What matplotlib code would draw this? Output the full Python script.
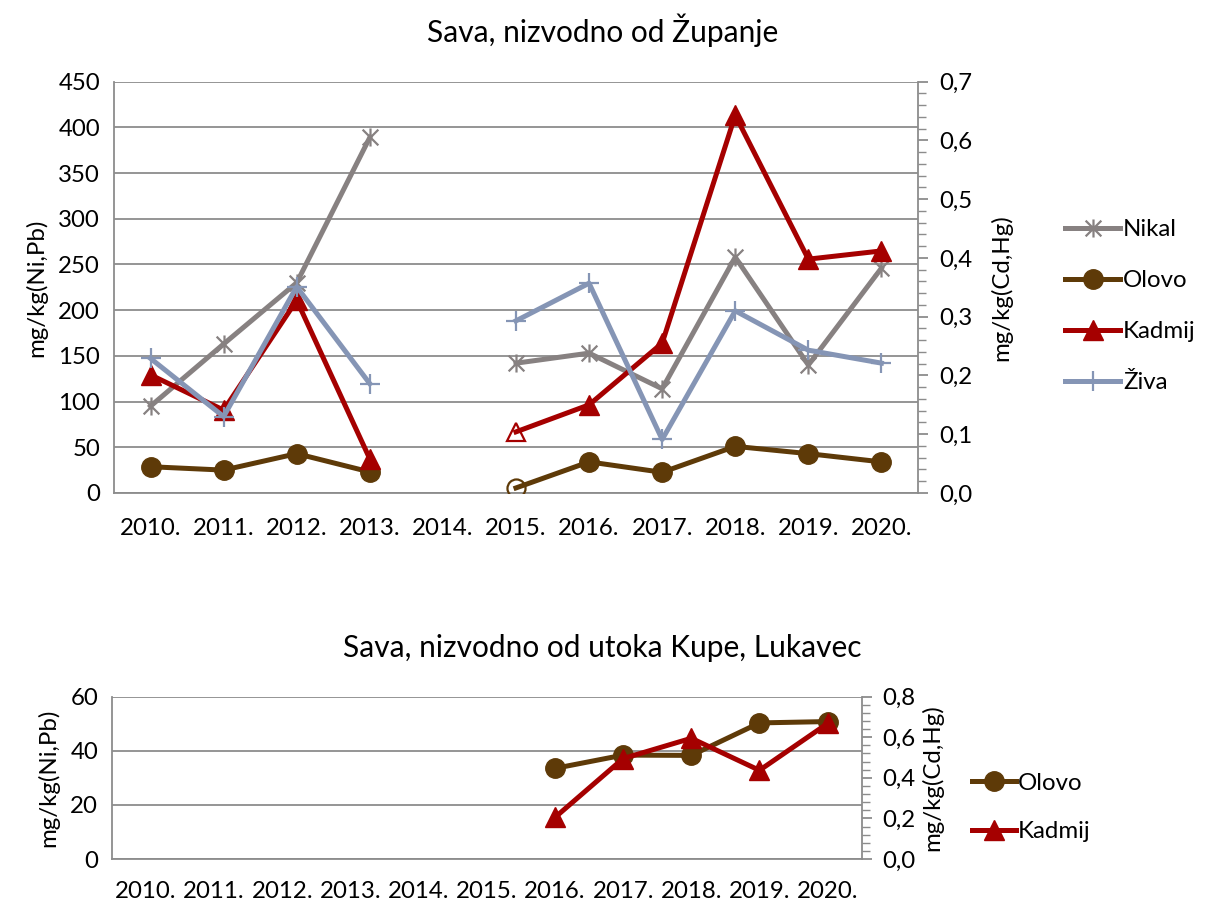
import numpy as np
import matplotlib
matplotlib.use("Agg")
import matplotlib.pyplot as plt
from matplotlib.path import Path
from matplotlib.ticker import FuncFormatter, MultipleLocator

plt.rcParams['font.family'] = ['Lato', 'DejaVu Sans']

years = ["2010.", "2011.", "2012.", "2013.", "2014.", "2015.", "2016.", "2017.", "2018.", "2019.", "2020."]
nan = np.nan

# Top chart: Sava, nizvodno od Županje
nikal_top = [95, 163, 230, 389, nan, 142, 153, 114, 258, 140, 246]
olovo_top = [28.7, 25, 43, 23, nan, 5.5, 34, 22.6, 51, 43, 34]
kadmij_top = [0.201, 0.141, 0.328, 0.058, nan, 0.104, 0.15, 0.255, 0.643, 0.398, 0.412]
ziva_top = [0.229, 0.13, 0.351, 0.186, nan, 0.293, 0.357, 0.091, 0.31, 0.243, 0.221]
hollow_idx = 5  # 2015 values shown with hollow markers (Olovo, Kadmij)

# Bottom chart: Sava, nizvodno od utoka Kupe, Lukavec
olovo_bot = [nan, nan, nan, nan, nan, nan, 33.5, 38.4, 38.3, 50.3, 50.8]
kadmij_bot = [nan, nan, nan, nan, nan, nan, 0.205, 0.495, 0.595, 0.437, 0.668]

C_NI = '#878181'
C_PB = '#5E3A08'
C_CD = '#A50000'
C_HG = '#8595B5'
GRID = '#8C8C8C'
FS = 17.3
FT = 21.5

star = Path([(-1, -1), (1, 1), (-1, 1), (1, -1), (0, -1.15), (0, 1.15)],
            [Path.MOVETO, Path.LINETO, Path.MOVETO, Path.LINETO, Path.MOVETO, Path.LINETO])

comma = FuncFormatter(lambda v, p: f"{v:.1f}".replace('.', ','))

fig = plt.figure(figsize=(12.05, 9.07), dpi=100)

def style_axes(ax, ax2, ymax, ystep, y2max, y2step, y2minor, xpad):
    ax.set_xlim(-0.5, len(years) - 0.5)
    ax.set_ylim(0, ymax)
    ax.set_yticks(np.arange(0, ymax + 0.001, ystep))
    ax.set_xticks(range(len(years)))
    ax.set_xticklabels(years)
    ax.grid(axis='y', color=GRID, lw=1.3)
    ax.set_axisbelow(True)
    ax.tick_params(axis='y', length=0, labelsize=FS, pad=10)
    ax.tick_params(axis='x', length=0, labelsize=FS, pad=xpad)
    for s in ['left', 'bottom']:
        ax.spines[s].set_color(GRID)
        ax.spines[s].set_linewidth(1.3)
    ax.spines['top'].set_visible(False)
    ax.spines['right'].set_visible(False)
    ax2.set_ylim(0, y2max)
    ax2.yaxis.set_major_locator(MultipleLocator(y2step))
    ax2.yaxis.set_minor_locator(MultipleLocator(y2minor))
    ax2.yaxis.set_major_formatter(comma)
    ax2.tick_params(axis='y', which='major', length=7, width=1.3, color=GRID, labelsize=FS, pad=8)
    ax2.tick_params(axis='y', which='minor', length=6, width=1.0, color=GRID)
    for s in ['left', 'bottom', 'top']:
        ax2.spines[s].set_visible(False)
    ax2.spines['right'].set_color(GRID)
    ax2.spines['right'].set_linewidth(1.3)

x = np.arange(len(years))
solid = [i for i in range(len(years)) if i != hollow_idx]
LW = 3.6

# ---------- top ----------
ax = fig.add_axes([0.0946, 0.4565, 0.6672, 0.4534])
ax2 = ax.twinx()
style_axes(ax, ax2, 450, 50, 0.7, 0.1, 0.02, 18)

h_ni, = ax.plot(x, nikal_top, color=C_NI, lw=LW, marker=star, ms=13, mew=1.6,
                mec=C_NI, label='Nikal', zorder=3)
h_pb, = ax.plot(x, olovo_top, color=C_PB, lw=LW, marker='o', ms=14, markevery=solid,
                mfc=C_PB, mec=C_PB, label='Olovo', zorder=4)
ax.plot([x[hollow_idx]], [olovo_top[hollow_idx]], ls='none', marker='o', ms=13,
        mfc='none', mec=C_PB, mew=1.6, zorder=5)
h_cd, = ax2.plot(x, kadmij_top, color=C_CD, lw=LW, marker='^', ms=14, markevery=solid,
                 mfc=C_CD, mec=C_CD, label='Kadmij', zorder=3)
ax2.plot([x[hollow_idx]], [kadmij_top[hollow_idx]], ls='none', marker='^', ms=13,
         mfc='none', mec=C_CD, mew=1.6, zorder=5)
h_hg, = ax2.plot(x, ziva_top, color=C_HG, lw=LW, marker='+', ms=14, mew=1.6,
                 mec=C_HG, label='Živa', zorder=4)

ax.set_ylabel('mg/kg(Ni,Pb)', fontsize=FS, labelpad=8)
ax2.set_ylabel('mg/kg(Cd,Hg)', fontsize=FS, labelpad=13)
fig.text(0.5, 0.967, 'Sava, nizvodno od Županje', ha='center', va='center', fontsize=FT)
fig.legend([h_ni, h_pb, h_cd, h_hg], ['Nikal', 'Olovo', 'Kadmij', 'Živa'],
           loc='center left', bbox_to_anchor=(0.876, 0.6626), frameon=False,
           fontsize=FS, handlelength=2.3, handletextpad=0.1, labelspacing=1.25,
           borderaxespad=0)

# ---------- bottom ----------
bx = fig.add_axes([0.0929, 0.0529, 0.6222, 0.179])
bx2 = bx.twinx()
style_axes(bx, bx2, 60, 20, 0.8, 0.2, 0.04, 16)
hb_pb, = bx.plot(x, olovo_bot, color=C_PB, lw=LW, marker='o', ms=14,
                 mfc=C_PB, mec=C_PB, label='Olovo', zorder=4)
hb_cd, = bx2.plot(x, kadmij_bot, color=C_CD, lw=LW, marker='^', ms=14,
                  mfc=C_CD, mec=C_CD, label='Kadmij', zorder=3)
bx.set_ylabel('mg/kg(Ni,Pb)', fontsize=FS, labelpad=8)
bx2.set_ylabel('mg/kg(Cd,Hg)', fontsize=FS, labelpad=4)
fig.text(0.5, 0.286, 'Sava, nizvodno od utoka Kupe, Lukavec', ha='center', va='center', fontsize=FT)
fig.legend([hb_pb, hb_cd], ['Olovo', 'Kadmij'],
           loc='center left', bbox_to_anchor=(0.799, 0.1095), frameon=False,
           fontsize=FS, handlelength=1.8, handletextpad=0.1, labelspacing=1.15,
           borderaxespad=0)

fig.savefig('out.png', dpi=100)
